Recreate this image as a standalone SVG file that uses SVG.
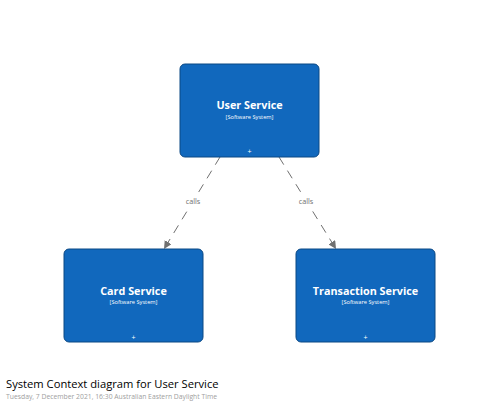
<svg xmlns="http://www.w3.org/2000/svg" width="500" height="407" viewBox="0 0 500 407">
<style>
.box{fill:#1168bd;stroke:#0b4884;stroke-width:1}
.name{font-family:"Open Sans","Noto Sans",sans-serif;font-weight:bold;font-size:10.8px;fill:#ffffff;text-anchor:middle}
.type{font-family:"Open Sans","Noto Sans",sans-serif;font-size:5.7px;fill:#ffffff;text-anchor:middle}
.plus{font-family:"Open Sans","Noto Sans",sans-serif;font-size:7px;fill:#ffffff;text-anchor:middle}
.edge{fill:none;stroke:#707070;stroke-width:1;stroke-dasharray:9 7}
.lbl{font-family:"Open Sans","Noto Sans",sans-serif;font-size:7.3px;fill:#707070;text-anchor:middle}
</style>
<defs>
<marker id="arr" viewBox="0 0 10 10" refX="10" refY="5" markerWidth="8" markerHeight="8" markerUnits="userSpaceOnUse" orient="auto">
<path d="M0,0 L10,5 L0,10 z" fill="#707070"/>
</marker>
</defs>
<rect width="500" height="407" fill="#ffffff"/>
<g id="connectors">
<line class="edge" x1="220" y1="157" x2="164" y2="249" marker-end="url(#arr)"/>
<rect x="184" y="196" width="18" height="10" fill="#ffffff"/>
<text class="lbl" x="193" y="204">calls</text>
<line class="edge" x1="279" y1="157" x2="336" y2="249" marker-end="url(#arr)"/>
<rect x="297" y="196" width="18" height="10" fill="#ffffff"/>
<text class="lbl" x="306" y="204">calls</text>
</g>
<g id="user-service">
<rect class="box" x="180" y="64" width="139" height="93" rx="5"/>
<text class="name" x="249.5" y="109">User Service</text>
<text class="type" x="249.5" y="119">[Software System]</text>
<text class="plus" x="249.5" y="153.5">+</text>
</g>
<g id="card-service">
<rect class="box" x="64" y="249" width="139" height="93" rx="5"/>
<text class="name" x="133.5" y="295">Card Service</text>
<text class="type" x="133.5" y="304">[Software System]</text>
<text class="plus" x="133.5" y="339.5">+</text>
</g>
<g id="transaction-service">
<rect class="box" x="296" y="249" width="139" height="93" rx="5"/>
<text class="name" x="365.5" y="295">Transaction Service</text>
<text class="type" x="365.5" y="304">[Software System]</text>
<text class="plus" x="365.5" y="339.5">+</text>
</g>
<g id="title">
<text x="6" y="388" font-family="Open Sans, Noto Sans, sans-serif" font-size="11.2" fill="#000000">System Context diagram for User Service</text>
<text x="6" y="399" font-family="Open Sans, Noto Sans, sans-serif" font-size="6.8" fill="#a0a0a0">Tuesday, 7 December 2021, 16:30 Australian Eastern Daylight Time</text>
</g>
</svg>
